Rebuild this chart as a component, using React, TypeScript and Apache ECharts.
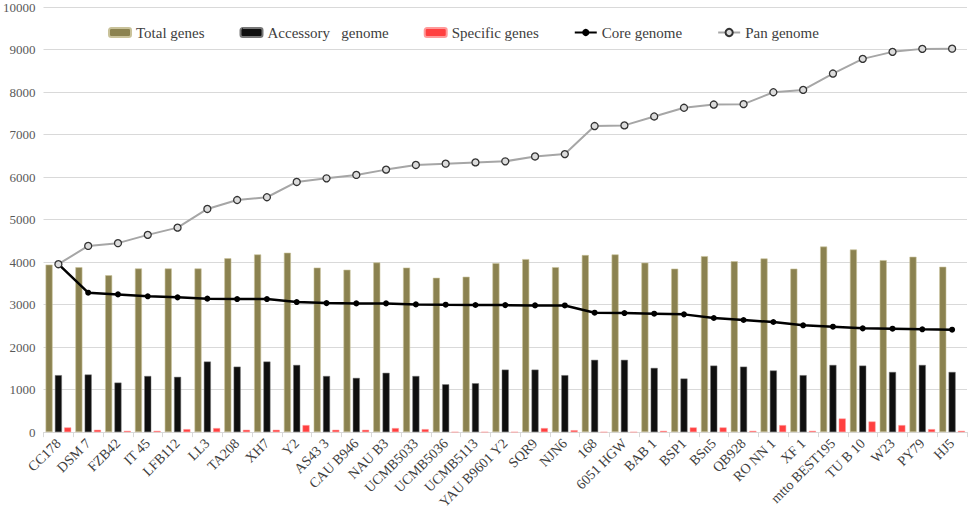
import React, { useEffect, useRef } from "react";
import * as echarts from "echarts";

const categories = [
  "CC178", "DSM 7", "FZB42", "IT 45", "LFB112", "LL3", "TA208", "XH7", "Y2", "AS43 3",
  "CAU B946", "NAU B3", "UCMB5033", "UCMB5036", "UCMB5113", "YAU B9601 Y2", "SQR9", "NJN6",
  "168", "6051 HGW", "BAB 1", "BSP1", "BSn5", "QB928", "RO NN 1", "XF 1", "mtto BEST195",
  "TU B 10", "W23", "PY79", "HJ5",
];

const totalGenes = [
  3940, 3880, 3690, 3850, 3850, 3850, 4090, 4180, 4220, 3870,
  3820, 3990, 3870, 3630, 3655, 3975, 4070, 3880, 4165, 4180,
  3985, 3845, 4140, 4020, 4085, 3845, 4365, 4295, 4045, 4125, 3890,
];

const accessoryGenome = [
  1340, 1355, 1165, 1320, 1300, 1660, 1540, 1660, 1580, 1320,
  1275, 1395, 1320, 1125, 1150, 1470, 1470, 1340, 1700, 1700,
  1510, 1260, 1565, 1540, 1450, 1340, 1580, 1565, 1415, 1580, 1415,
];

const specificGenes = [
  110, 55, 30, 30, 70, 95, 55, 55, 165, 55,
  55, 95, 70, 0, 0, 0, 95, 45, 0, 0,
  30, 110, 110, 30, 165, 30, 320, 250, 165, 70, 30,
];

const coreGenome = [
  3950, 3280, 3240, 3195, 3170, 3140, 3130, 3130, 3060, 3035,
  3028, 3028, 3005, 2997, 2990, 2988, 2981, 2980, 2810, 2801,
  2786, 2770, 2684, 2637, 2590, 2512, 2480, 2441, 2433, 2418, 2410,
];

const panGenome = [
  3950, 4380, 4445, 4640, 4810, 5250, 5460, 5525, 5885, 5970,
  6050, 6175, 6285, 6315, 6345, 6370, 6485, 6540, 7200, 7215,
  7425, 7630, 7705, 7715, 7995, 8050, 8435, 8780, 8945, 9015, 9020,
];

const yTicks = [0, 1000, 2000, 3000, 4000, 5000, 6000, 7000, 8000, 9000, 10000];

const SERIF = "Liberation Serif";

export default function App() {
  const ref = useRef<HTMLDivElement>(null);

  useEffect(() => {
    if (!ref.current) return;
    const chart = echarts.init(ref.current, undefined, { renderer: "svg" });
    chart.setOption({
      animation: false,
      backgroundColor: "#ffffff",
      textStyle: { fontFamily: SERIF },
      grid: { left: 43, right: 3, top: 7, bottom: 79, containLabel: false },
      legend: {
        left: 108,
        top: 25,
        padding: 0,
        itemWidth: 22,
        itemHeight: 9,
        itemGap: 35,
        textStyle: { fontFamily: SERIF, fontSize: 15, color: "#404040" },
        data: [
          { name: "Total genes" },
          { name: "Accessory   genome" },
          { name: "Specific genes" },
          { name: "Core genome" },
          { name: "Pan genome" },
        ],
      },
      xAxis: {
        type: "category",
        data: categories,
        axisLine: { lineStyle: { color: "#d9d9d9", width: 1 } },
        axisTick: { show: true, alignWithLabel: false, length: 5, lineStyle: { color: "#d9d9d9" } },
        axisLabel: {
          interval: 0,
          rotate: 45,
          margin: 9,
          fontFamily: SERIF,
          fontSize: 14,
          color: "#404040",
        },
      },
      yAxis: {
        type: "value",
        min: yTicks[0],
        max: yTicks[yTicks.length - 1],
        interval: 1000,
        axisLine: { show: false },
        axisTick: { show: false },
        splitLine: { lineStyle: { color: "#d9d9d9", width: 1 } },
        axisLabel: {
          fontFamily: SERIF,
          fontSize: 13,
          color: "#595959",
          margin: 8,
          formatter: (v: number) => String(v),
        },
      },
      series: [
        {
          name: "Total genes",
          type: "bar",
          data: totalGenes,
          barWidth: 7,
          barGap: "33%",
          itemStyle: { color: "#8b8250", borderColor: "#c9c29a", borderWidth: 0.6 },
        },
        {
          name: "Accessory   genome",
          type: "bar",
          data: accessoryGenome,
          barWidth: 7,
          barGap: "33%",
          itemStyle: { color: "#0f0f0f", borderColor: "#777777", borderWidth: 0.5 },
        },
        {
          name: "Specific genes",
          type: "bar",
          data: specificGenes,
          barWidth: 7,
          barGap: "33%",
          itemStyle: { color: "#ff4040", borderColor: "#ff9a9a", borderWidth: 0.5 },
        },
        {
          name: "Core genome",
          type: "line",
          data: coreGenome,
          symbol: "circle",
          symbolSize: 6,
          lineStyle: { color: "#000000", width: 2.5 },
          itemStyle: { color: "#000000" },
          z: 5,
        },
        {
          name: "Pan genome",
          type: "line",
          data: panGenome,
          symbol: "circle",
          symbolSize: 7,
          lineStyle: { color: "#a6a6a6", width: 2 },
          itemStyle: { color: "#dcdcdc", borderColor: "#333333", borderWidth: 1.3 },
          z: 6,
        },
      ],
    });
    return () => chart.dispose();
  }, []);

  return <div ref={ref} style={{ width: 970, height: 512, position: "absolute", left: 0, top: 0 }} />;
}
